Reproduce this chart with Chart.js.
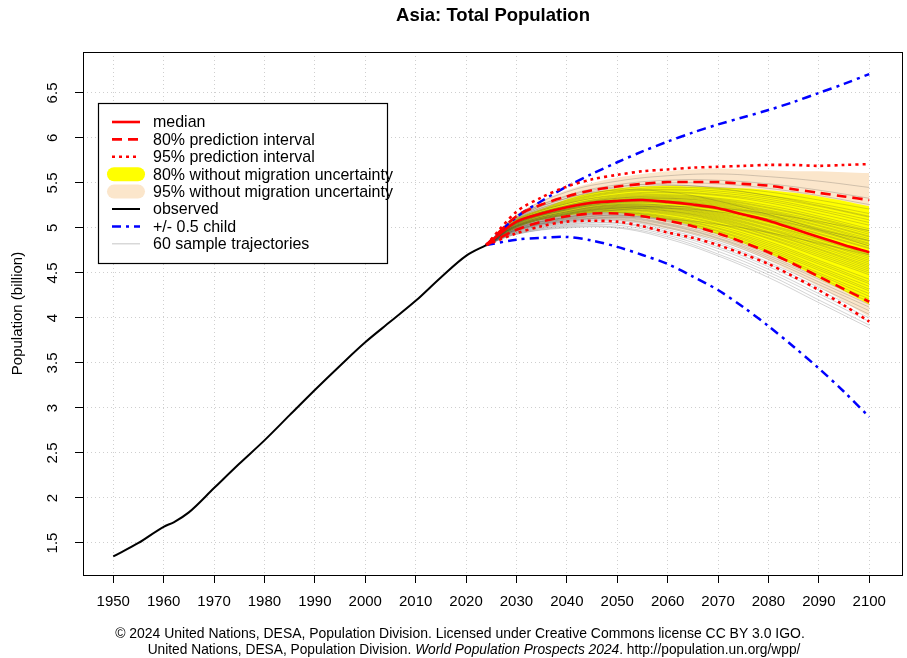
<!DOCTYPE html>
<html>
<head>
<meta charset="utf-8">
<script src="https://cdn.jsdelivr.net/npm/chart.js@4.4.1/dist/chart.umd.min.js"></script>
<style>
  html, body { margin: 0; padding: 0; background: #fff; }
  #wrap { width: 907px; height: 658px; }
</style>
</head>
<body>
<div id="wrap"><canvas id="chart"></canvas></div>
<script>
// observed population (billion)
const obsYears = [1950, 1955, 1960, 1962, 1965, 1970, 1975, 1980, 1985, 1990, 1995, 2000, 2005, 2010, 2015, 2020, 2024];
const obsPop   = [1.35, 1.50, 1.68, 1.73, 1.84, 2.11, 2.38, 2.64, 2.92, 3.20, 3.47, 3.73, 3.96, 4.19, 4.45, 4.69, 4.81];

// projections, 5-year steps
const projYears = [2024, 2030, 2035, 2040, 2045, 2050, 2055, 2060, 2065, 2070, 2075, 2080, 2085, 2090, 2095, 2100];
const median    = [4.81, 5.07, 5.16, 5.23, 5.28, 5.30, 5.31, 5.29, 5.26, 5.22, 5.15, 5.08, 4.99, 4.90, 4.81, 4.73];
const pi80Up    = [4.81, 5.13, 5.26, 5.35, 5.42, 5.46, 5.49, 5.51, 5.51, 5.51, 5.49, 5.47, 5.43, 5.39, 5.35, 5.31];
const pi80Low   = [4.81, 4.98, 5.07, 5.13, 5.16, 5.16, 5.13, 5.08, 5.02, 4.94, 4.84, 4.73, 4.60, 4.46, 4.32, 4.18];
const pi95Up    = [4.81, 5.18, 5.34, 5.46, 5.54, 5.59, 5.63, 5.65, 5.67, 5.68, 5.69, 5.70, 5.70, 5.69, 5.70, 5.71];
const pi95Low   = [4.81, 4.94, 5.02, 5.07, 5.08, 5.07, 5.02, 4.95, 4.89, 4.81, 4.71, 4.60, 4.46, 4.31, 4.14, 3.96];
const noMig80Up  = [4.81, 5.10, 5.21, 5.32, 5.39, 5.44, 5.46, 5.47, 5.46, 5.45, 5.44, 5.42, 5.39, 5.35, 5.30, 5.24];
const noMig80Low = [4.81, 5.00, 5.09, 5.14, 5.17, 5.17, 5.13, 5.09, 5.02, 4.93, 4.83, 4.72, 4.59, 4.44, 4.30, 4.15];
const noMig95Up  = [4.81, 5.15, 5.30, 5.42, 5.50, 5.56, 5.60, 5.63, 5.65, 5.66, 5.65, 5.64, 5.63, 5.63, 5.62, 5.61];
const noMig95Low = [4.81, 4.96, 5.04, 5.09, 5.10, 5.09, 5.05, 4.99, 4.93, 4.86, 4.76, 4.64, 4.50, 4.35, 4.18, 4.01];
const childUp   = [4.81, 5.12, 5.30, 5.46, 5.60, 5.73, 5.85, 5.96, 6.06, 6.15, 6.23, 6.31, 6.40, 6.50, 6.60, 6.71];
const childLow  = [4.81, 4.87, 4.89, 4.90, 4.86, 4.79, 4.70, 4.60, 4.46, 4.31, 4.12, 3.91, 3.68, 3.44, 3.18, 2.90];

// sample trajectories, read at 2030, 2040 ... 2100 (all start at 4.81 in 2024)
const trajYears = [2024, 2030, 2040, 2050, 2060, 2070, 2080, 2090, 2100];
const trajectories = [
  [5.14, 5.40, 5.52, 5.58, 5.60, 5.57, 5.52, 5.45],
  [5.12, 5.36, 5.48, 5.53, 5.53, 5.49, 5.42, 5.33],
  [5.11, 5.33, 5.45, 5.50, 5.49, 5.44, 5.36, 5.26],
  [5.10, 5.31, 5.43, 5.47, 5.45, 5.40, 5.31, 5.21],
  [5.10, 5.30, 5.41, 5.45, 5.43, 5.36, 5.27, 5.16],
  [5.09, 5.29, 5.40, 5.43, 5.41, 5.34, 5.24, 5.12],
  [5.09, 5.28, 5.39, 5.42, 5.39, 5.32, 5.21, 5.09],
  [5.08, 5.27, 5.37, 5.40, 5.37, 5.30, 5.19, 5.06],
  [5.08, 5.27, 5.36, 5.39, 5.36, 5.28, 5.16, 5.03],
  [5.11, 5.33, 5.42, 5.40, 5.30, 5.15, 4.98, 4.80],
  [5.07, 5.25, 5.35, 5.37, 5.33, 5.25, 5.13, 4.99],
  [5.07, 5.25, 5.34, 5.36, 5.32, 5.23, 5.11, 4.97],
  [5.07, 5.24, 5.33, 5.35, 5.31, 5.22, 5.10, 4.95],
  [5.07, 5.24, 5.33, 5.34, 5.30, 5.20, 5.08, 4.93],
  [5.06, 5.23, 5.32, 5.33, 5.29, 5.19, 5.06, 4.91],
  [5.06, 5.23, 5.31, 5.33, 5.28, 5.18, 5.05, 4.90],
  [5.06, 5.22, 5.31, 5.32, 5.27, 5.17, 5.03, 4.88],
  [5.06, 5.22, 5.30, 5.31, 5.26, 5.15, 5.02, 4.86],
  [5.05, 5.21, 5.30, 5.30, 5.25, 5.14, 5.00, 4.85],
  [5.05, 5.21, 5.29, 5.30, 5.24, 5.13, 4.99, 4.83],
  [5.05, 5.21, 5.29, 5.29, 5.23, 5.12, 4.97, 4.82],
  [5.05, 5.20, 5.28, 5.28, 5.22, 5.10, 4.96, 4.80],
  [5.04, 5.20, 5.28, 5.28, 5.21, 5.09, 4.94, 4.78],
  [5.04, 5.20, 5.27, 5.27, 5.20, 5.08, 4.93, 4.77],
  [5.02, 5.15, 5.22, 5.24, 5.22, 5.16, 5.07, 4.97],
  [5.04, 5.19, 5.26, 5.25, 5.18, 5.06, 4.90, 4.73],
  [5.03, 5.18, 5.26, 5.25, 5.17, 5.04, 4.88, 4.71],
  [5.03, 5.18, 5.25, 5.24, 5.16, 5.03, 4.87, 4.70],
  [5.03, 5.18, 5.25, 5.23, 5.15, 5.02, 4.85, 4.68],
  [5.03, 5.17, 5.24, 5.22, 5.14, 5.00, 4.84, 4.66],
  [5.02, 5.17, 5.24, 5.22, 5.13, 4.99, 4.82, 4.64],
  [5.02, 5.16, 5.23, 5.21, 5.12, 4.98, 4.81, 4.62],
  [5.02, 5.16, 5.23, 5.20, 5.11, 4.96, 4.79, 4.60],
  [5.02, 5.16, 5.22, 5.19, 5.10, 4.95, 4.77, 4.58],
  [5.01, 5.15, 5.22, 5.19, 5.09, 4.94, 4.76, 4.56],
  [5.01, 5.15, 5.21, 5.18, 5.08, 4.92, 4.74, 4.54],
  [5.01, 5.14, 5.20, 5.17, 5.07, 4.91, 4.72, 4.52],
  [5.01, 5.14, 5.20, 5.16, 5.05, 4.89, 4.70, 4.50],
  [5.00, 5.13, 5.19, 5.15, 5.04, 4.88, 4.68, 4.48],
  [4.98, 5.08, 5.12, 5.10, 5.04, 4.95, 4.83, 4.70],
  [5.00, 5.12, 5.18, 5.13, 5.02, 4.85, 4.64, 4.43],
  [4.99, 5.12, 5.17, 5.12, 5.00, 4.83, 4.62, 4.40],
  [4.99, 5.11, 5.17, 5.11, 4.99, 4.81, 4.60, 4.38],
  [4.99, 5.11, 5.16, 5.10, 4.97, 4.79, 4.57, 4.35],
  [4.98, 5.10, 5.15, 5.09, 4.96, 4.77, 4.55, 4.32],
  [4.98, 5.10, 5.14, 5.08, 4.94, 4.75, 4.53, 4.30],
  [4.98, 5.09, 5.14, 5.07, 4.93, 4.73, 4.50, 4.27],
  [4.97, 5.09, 5.13, 5.05, 4.91, 4.71, 4.48, 4.24],
  [4.97, 5.08, 5.12, 5.04, 4.89, 4.69, 4.45, 4.21],
  [4.97, 5.07, 5.11, 5.03, 4.88, 4.67, 4.43, 4.18],
  [4.96, 5.07, 5.10, 5.01, 4.86, 4.65, 4.40, 4.15],
  [4.96, 5.06, 5.09, 5.00, 4.84, 4.62, 4.37, 4.12],
  [4.95, 5.05, 5.08, 4.98, 4.82, 4.60, 4.34, 4.08],
  [4.95, 5.04, 5.06, 4.96, 4.79, 4.57, 4.31, 4.04],
  [4.94, 5.03, 5.05, 4.94, 4.77, 4.54, 4.27, 4.00],
  [4.94, 5.02, 5.03, 4.92, 4.74, 4.51, 4.24, 3.96],
  [4.93, 5.01, 5.01, 4.90, 4.71, 4.48, 4.20, 3.92],
  [4.93, 5.00, 5.00, 4.88, 4.69, 4.45, 4.17, 3.89],
  [5.12, 5.35, 5.46, 5.48, 5.44, 5.36, 5.25, 5.13],
  [5.00, 5.12, 5.20, 5.22, 5.18, 5.10, 4.98, 4.86]
];

const xTicks = [1950, 1960, 1970, 1980, 1990, 2000, 2010, 2020, 2030, 2040, 2050, 2060, 2070, 2080, 2090, 2100];
const yTicks = [1.5, 2, 2.5, 3, 3.5, 4, 4.5, 5, 5.5, 6, 6.5];

const FONT = '"Liberation Sans", Arial, Helvetica, sans-serif';

function pts(xs, ys) {
  return xs.map((x, i) => ({ x: x, y: ys[i] }));
}

function line(data, color, width, dash, order, extra) {
  return Object.assign({
    data: data, borderColor: color, borderWidth: width, borderDash: dash || [],
    borderCapStyle: 'butt', pointRadius: 0, fill: false, tension: 0.3, order: order
  }, extra || {});
}

const datasets = [];
// 0,1: 95% band without migration uncertainty
datasets.push(line(pts(projYears, noMig95Up), 'rgba(0,0,0,0)', 0, [], 9, { fill: 1, backgroundColor: '#fbe6cb' }));
datasets.push(line(pts(projYears, noMig95Low), 'rgba(0,0,0,0)', 0, [], 9));
// 2,3: 80% band without migration uncertainty
datasets.push(line(pts(projYears, noMig80Up), 'rgba(0,0,0,0)', 0, [], 8, { fill: 3, backgroundColor: '#ffff00' }));
datasets.push(line(pts(projYears, noMig80Low), 'rgba(0,0,0,0)', 0, [], 8));
// sample trajectories
const start = obsPop[obsPop.length - 1];
trajectories.forEach(function (row) {
  datasets.push(line(pts(trajYears, [start].concat(row)), 'rgba(60,60,60,0.38)', 0.6, [], 7, { tension: 0.4 }));
});
// +/- 0.5 child
datasets.push(line(pts(projYears, childUp), '#0000ff', 2.5, [9, 5, 3, 5], 4));
datasets.push(line(pts(projYears, childLow), '#0000ff', 2.5, [9, 5, 3, 5], 4));
// prediction intervals
datasets.push(line(pts(projYears, pi95Up), '#ff0000', 2.6, [3, 4], 3));
datasets.push(line(pts(projYears, pi95Low), '#ff0000', 2.6, [3, 4], 3));
datasets.push(line(pts(projYears, pi80Up), '#ff0000', 2.6, [10, 6], 2));
datasets.push(line(pts(projYears, pi80Low), '#ff0000', 2.6, [10, 6], 2));
datasets.push(line(pts(projYears, median), '#ff0000', 2.6, [], 1));
// observed
datasets.push(line(pts(obsYears, obsPop), '#000000', 2, [], 0, { tension: 0, cubicInterpolationMode: 'monotone' }));

const legendItems = [
  { label: 'median', type: 'line', color: '#ff0000', width: 2.6, dash: [] },
  { label: '80% prediction interval', type: 'line', color: '#ff0000', width: 2.6, dash: [10, 6] },
  { label: '95% prediction interval', type: 'line', color: '#ff0000', width: 2.6, dash: [3, 4] },
  { label: '80% without migration uncertainty', type: 'band', color: '#ffff00' },
  { label: '95% without migration uncertainty', type: 'band', color: '#fbe6cb' },
  { label: 'observed', type: 'line', color: '#000000', width: 2, dash: [] },
  { label: '+/- 0.5 child', type: 'line', color: '#0000ff', width: 2.5, dash: [9, 5, 3, 5] },
  { label: '60 sample trajectories', type: 'line', color: '#cfcfcf', width: 1.2, dash: [] }
];

function fitSize(ctx, text, style, target, base) {
  ctx.font = style + ' ' + base + 'px ' + FONT;
  return base * target / ctx.measureText(text).width;
}

const decor = {
  id: 'decor',
  beforeDraw(chart) {
    const ctx = chart.ctx;
    ctx.save();
    ctx.fillStyle = '#fff';
    ctx.fillRect(0, 0, chart.width, chart.height);
    ctx.restore();
  },
  afterDraw(chart) {
    const ctx = chart.ctx;
    const a = chart.chartArea;
    const ys = chart.scales.y;
    ctx.save();

    // plot box
    ctx.strokeStyle = '#000';
    ctx.lineWidth = 1;
    ctx.strokeRect(a.left + 0.5, a.top + 0.5, a.right - a.left - 1, a.bottom - a.top);

    // y tick labels, rotated as in R
    ctx.fillStyle = '#000';
    ctx.font = '15px ' + FONT;
    ctx.textAlign = 'center';
    ctx.textBaseline = 'middle';
    yTicks.forEach(function (v) {
      const py = ys.getPixelForValue(v);
      ctx.save();
      ctx.translate(53, py);
      ctx.rotate(-Math.PI / 2);
      ctx.fillText(String(v), 0, 0);
      ctx.restore();
    });

    // y axis title
    ctx.save();
    ctx.translate(18, (a.top + a.bottom) / 2);
    ctx.rotate(-Math.PI / 2);
    ctx.font = '15px ' + FONT;
    ctx.fillText('Population (billion)', 0, 0);
    ctx.restore();

    // main title
    const tSize = fitSize(ctx, 'Asia: Total Population', 'bold', 194, 16);
    ctx.font = 'bold ' + tSize.toFixed(2) + 'px ' + FONT;
    ctx.fillText('Asia: Total Population', (a.left + a.right) / 2, 16);

    // source lines
    const l1 = '\u00a9 2024 United Nations, DESA, Population Division. Licensed under Creative Commons license CC BY 3.0 IGO.';
    const cSize = fitSize(ctx, l1, 'normal', 690, 12);
    ctx.font = cSize.toFixed(2) + 'px ' + FONT;
    ctx.fillText(l1, 460, 634);
    const p1 = 'United Nations, DESA, Population Division. ';
    const p2 = 'World Population Prospects 2024';
    const p3 = '. http://population.un.org/wpp/';
    const c2 = cSize * 0.985;
    const fN = c2.toFixed(2) + 'px ' + FONT;
    const fI = 'italic ' + c2.toFixed(2) + 'px ' + FONT;
    ctx.font = fN; const w1 = ctx.measureText(p1).width; const w3 = ctx.measureText(p3).width;
    ctx.font = fI; const w2 = ctx.measureText(p2).width;
    let x0 = 474 - (w1 + w2 + w3) / 2;
    ctx.textAlign = 'left';
    ctx.font = fN; ctx.fillText(p1, x0, 650);
    ctx.font = fI; ctx.fillText(p2, x0 + w1, 650);
    ctx.font = fN; ctx.fillText(p3, x0 + w1 + w2, 650);

    // legend box
    const bx = 98, by = 103, bw = 289, bh = 160;
    ctx.fillStyle = '#fff';
    ctx.fillRect(bx, by, bw, bh);
    ctx.strokeStyle = '#000';
    ctx.lineWidth = 1.2;
    ctx.strokeRect(bx + 0.5, by + 0.5, bw, bh);
    const lSize = fitSize(ctx, '80% without migration uncertainty', 'normal', 240, 14);
    ctx.font = lSize.toFixed(2) + 'px ' + FONT;
    ctx.textBaseline = 'middle';
    legendItems.forEach(function (it, i) {
      const ry = 122 + i * 17.4;
      ctx.save();
      if (it.type === 'band') {
        ctx.strokeStyle = it.color;
        ctx.lineWidth = 14;
        ctx.lineCap = 'round';
        ctx.beginPath(); ctx.moveTo(114, ry); ctx.lineTo(138, ry); ctx.stroke();
      } else {
        ctx.strokeStyle = it.color;
        ctx.lineWidth = it.width;
        ctx.setLineDash(it.dash);
        ctx.beginPath(); ctx.moveTo(112, ry); ctx.lineTo(140, ry); ctx.stroke();
      }
      ctx.restore();
      ctx.fillStyle = '#000';
      ctx.fillText(it.label, 153, ry + 1);
    });
    ctx.restore();
  }
};

new Chart(document.getElementById('chart'), {
  type: 'line',
  data: { datasets: datasets },
  plugins: [decor],
  options: {
    responsive: true,
    maintainAspectRatio: false,
    animation: false,
    events: [],
    layout: { padding: { top: 52, right: 4, left: 0, bottom: 0 } },
    plugins: { legend: { display: false }, tooltip: { enabled: false }, title: { display: false } },
    scales: {
      x: {
        type: 'linear', min: 1944, max: 2106.7,
        afterBuildTicks: function (s) { s.ticks = xTicks.map(v => ({ value: v })); },
        afterFit: function (s) { s.height = 83; },
        grid: { color: '#cfcfcf', lineWidth: 1, drawTicks: true, tickLength: 8, tickColor: '#000', tickWidth: 1 },
        border: { display: false, dash: [1, 3] },
        ticks: { autoSkip: false, maxRotation: 0, color: '#000', padding: 10, font: { family: FONT, size: 15 }, callback: v => String(v) }
      },
      y: {
        type: 'linear', min: 1.144, max: 6.955,
        afterBuildTicks: function (s) { s.ticks = yTicks.map(v => ({ value: v })); },
        afterFit: function (s) { s.width = 83; },
        grid: { color: '#cfcfcf', lineWidth: 1, drawTicks: true, tickLength: 8, tickColor: '#000', tickWidth: 1 },
        border: { display: false, dash: [1, 3] },
        ticks: { display: false }
      }
    }
  }
});
</script>
</body>
</html>
